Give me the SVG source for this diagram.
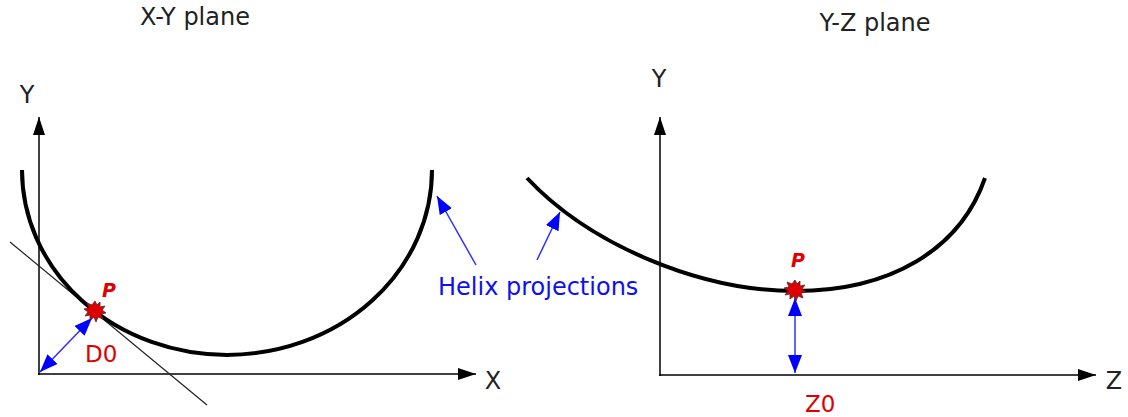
<svg xmlns="http://www.w3.org/2000/svg" width="1128" height="417" viewBox="0 0 1128 417">
<style>
.lbl{font-family:"DejaVu Sans",Verdana,sans-serif;font-size:24px;fill:#222}
.red{font-family:"DejaVu Sans",Verdana,sans-serif;font-size:23px;fill:#e00000}
.p{font-family:"DejaVu Sans",Verdana,sans-serif;font-size:19px;font-weight:bold;font-style:italic;fill:#e00000}
.blue{font-family:"DejaVu Sans",Verdana,sans-serif;font-size:24px;fill:#1010ee}
.axis{stroke:#000;stroke-width:1.5;fill:none}
.curve{stroke:#000;stroke-width:4;fill:none}
.bl{stroke:#3030ff;stroke-width:1.5;fill:none}
.splat{fill:#dd0000;stroke:#552222;stroke-width:0.8}
</style>
<defs>
<marker id="ak" viewBox="0 0 18 12" refX="18" refY="6" markerWidth="18" markerHeight="12" markerUnits="userSpaceOnUse" orient="auto">
<path d="M0,0 L18,6 L0,12 Z" fill="#000"/>
</marker>
<marker id="ab" viewBox="0 0 18 14" refX="18" refY="7" markerWidth="18" markerHeight="14" markerUnits="userSpaceOnUse" orient="auto-start-reverse">
<path d="M0,0 L18,7 L0,14 Z" fill="#0000ff"/>
</marker>
<polygon id="star" points="0,-10 2,-6 5,-9 5,-4 10,-5 7,-1 11,2 6,3 8,8 3,6 1,11 -1,6 -5,9 -5,4 -10,5 -7,1 -11,-2 -6,-3 -8,-8 -3,-6"/>
</defs>
<g id="titles">
<text class="lbl" x="195" y="25" text-anchor="middle">X-Y plane</text>
<text class="lbl" x="875" y="31" text-anchor="middle">Y-Z plane</text>
</g>
<g id="connectors">
<line class="axis" x1="39" y1="375" x2="39" y2="117" marker-end="url(#ak)"/>
<line class="axis" x1="38" y1="374" x2="476" y2="374" marker-end="url(#ak)"/>
<line class="axis" x1="660" y1="376" x2="660" y2="117" marker-end="url(#ak)"/>
<line class="axis" x1="659" y1="375" x2="1096" y2="375" marker-end="url(#ak)"/>
<line stroke="#222" stroke-width="1.2" x1="10" y1="242" x2="207" y2="405"/>
<line class="bl" x1="40" y1="372" x2="92" y2="318" marker-start="url(#ab)" marker-end="url(#ab)"/>
<line class="bl" x1="795" y1="298" x2="795" y2="373" marker-start="url(#ab)" marker-end="url(#ab)"/>
<line class="bl" x1="476" y1="265" x2="437" y2="196" marker-end="url(#ab)"/>
<line class="bl" x1="537" y1="260" x2="560" y2="212" marker-end="url(#ab)"/>
</g>
<g id="xy-helix">
<path class="curve" d="M22,170 A205,185 0 0 0 432,170"/>
<use href="#star" x="95" y="311" class="splat"/>
<text class="p" x="102" y="297">P</text>
<text class="red" x="85" y="362">D0</text>
</g>
<g id="yz-helix">
<path class="curve" d="M527,178 C590,245 700,291 795,291 C890,291 960,250 985,178"/>
<use href="#star" x="795" y="290" class="splat"/>
<text class="p" x="791" y="267">P</text>
<text class="red" x="805" y="412">Z0</text>
</g>
<g id="axis-labels">
<text class="lbl" x="27" y="103" text-anchor="middle">Y</text>
<text class="lbl" x="659" y="87" text-anchor="middle">Y</text>
<text class="lbl" x="493" y="389" text-anchor="middle">X</text>
<text class="lbl" x="1114" y="389" text-anchor="middle">Z</text>
</g>
<g id="helix-label">
<text class="blue" x="438" y="295">Helix projections</text>
</g>
</svg>
